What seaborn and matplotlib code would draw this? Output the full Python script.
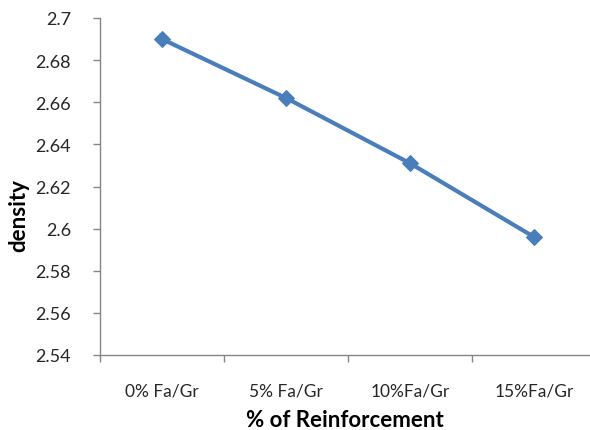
import matplotlib
matplotlib.use("Agg")
import matplotlib.pyplot as plt
import seaborn as sns
import pandas as pd
from matplotlib.ticker import FixedLocator, NullFormatter

categories = ["0% Fa/Gr", "5% Fa/Gr", "10%Fa/Gr", "15%Fa/Gr"]
density = [2.690, 2.662, 2.631, 2.596]
y_ticks = [2.54, 2.56, 2.58, 2.60, 2.62, 2.64, 2.66, 2.68, 2.70]
y_tick_labels = ["2.54", "2.56", "2.58", "2.6", "2.62", "2.64", "2.66", "2.68", "2.7"]

sns.set_style("white")
plt.rcParams['font.family'] = ['Lato', 'DejaVu Sans']

df = pd.DataFrame({"cat": categories, "density": density})

fig = plt.figure(figsize=(5.9, 4.31), dpi=100)
ax = fig.add_axes([100/590, 75/431, 490/590, 337/431])

blue = "#4A7EBB"
sns.lineplot(data=df, x="cat", y="density", sort=False, ax=ax, color=blue,
             linewidth=3, marker="D", markersize=8, markeredgecolor=blue,
             markerfacecolor=blue)

ax.set_xlim(-0.5, 3.45)
ax.set_ylim(2.54, 2.70)
ax.set_yticks(y_ticks)
ax.set_yticklabels(y_tick_labels)
ax.set_xticks(range(len(categories)))
ax.set_xticklabels(categories)
ax.xaxis.set_minor_locator(FixedLocator([-0.5, 0.5, 1.5, 2.5]))
ax.xaxis.set_minor_formatter(NullFormatter())

gray = "#868686"
for s in ["top", "right"]:
    ax.spines[s].set_visible(False)
for s in ["left", "bottom"]:
    ax.spines[s].set_color(gray)
    ax.spines[s].set_linewidth(1)

ax.tick_params(axis="y", which="major", length=5, width=1, color=gray,
               labelsize=13, labelcolor="#262626", pad=16, left=True)
ax.tick_params(axis="x", which="major", length=0, labelsize=12.5,
               labelcolor="#262626", pad=20)
ax.tick_params(axis="x", which="minor", length=5, width=1, color=gray,
               bottom=True, direction="out")

ax.set_xlabel("% of Reinforcement", fontsize=16, fontweight="bold",
              color="black")
ax.xaxis.set_label_coords(0.5, -54/337)
ax.xaxis.label.set_va("top")
ax.set_ylabel("density", fontsize=16, fontweight="bold", color="black")
ax.yaxis.set_label_coords(-71/490, (356-216)/337)
ax.grid(False)

fig.savefig("out.png", dpi=100)
